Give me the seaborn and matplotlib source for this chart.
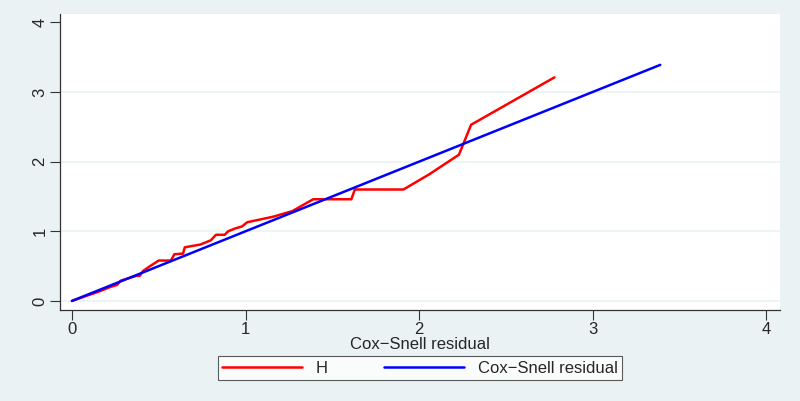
import pandas as pd
import matplotlib
matplotlib.use('Agg')
import matplotlib.pyplot as plt
import seaborn as sns

# data
h_x = [0, 0.08, 0.15, 0.22, 0.26, 0.28, 0.37, 0.39, 0.41, 0.45, 0.50, 0.57, 0.59,
       0.64, 0.65, 0.74, 0.80, 0.83, 0.88, 0.90, 0.94, 0.98, 1.01, 1.16, 1.27,
       1.39, 1.61, 1.63, 1.91, 2.06, 2.23, 2.30, 2.78]
h_y = [0, 0.07, 0.13, 0.20, 0.23, 0.29, 0.36, 0.36, 0.43, 0.50, 0.58, 0.58, 0.67,
       0.68, 0.77, 0.81, 0.87, 0.95, 0.95, 1.00, 1.04, 1.07, 1.13, 1.21, 1.29,
       1.46, 1.46, 1.60, 1.60, 1.82, 2.10, 2.53, 3.21]
cs_x = [0, 3.39]
cs_y = [0, 3.39]
x_ticks = [0, 1, 2, 3, 4]
y_ticks = [0, 1, 2, 3, 4]

h_df = pd.DataFrame({'x': h_x, 'y': h_y})
cs_df = pd.DataFrame({'x': cs_x, 'y': cs_y})

sns.set_style('white')
plt.rcParams['font.family'] = ['Liberation Sans', 'DejaVu Sans']

bg = '#EAF2F3'
fig = plt.figure(figsize=(8, 4.01), dpi=100, facecolor=bg)
ax = fig.add_axes([0.075, 0.227, 0.9, 0.738])
ax.set_facecolor('white')

# gridlines
for v in [0, 1, 2, 3]:
    ax.axhline(v, color=bg, lw=1.2, zorder=0)

sns.lineplot(data=h_df, x='x', y='y', ax=ax, color='#FF0000', lw=1.8,
             sort=False, estimator=None, label='H')
sns.lineplot(data=cs_df, x='x', y='y', ax=ax, color='#0000FF', lw=1.8,
             sort=False, estimator=None, label='Cox\u2212Snell residual')

ax.set_xlim(-0.069, 4.08)
ax.set_ylim(-0.13, 4.12)
ax.set_xticks(x_ticks)
ax.set_yticks(y_ticks)
ax.set_yticklabels([str(t) for t in y_ticks], rotation=90, va='center')
ax.tick_params(axis='both', direction='out', length=7, width=0.8,
               color='#333333', labelsize=12, pad=2, bottom=True, left=True)
ax.set_xlabel('Cox\u2212Snell residual', fontsize=12, labelpad=0)
ax.set_ylabel('')

for s in ['top', 'right']:
    ax.spines[s].set_visible(False)
for s in ['left', 'bottom']:
    ax.spines[s].set_color('#333333')
    ax.spines[s].set_linewidth(0.9)

leg = ax.legend(loc='center', bbox_to_anchor=(0.525, 0.082),
                bbox_transform=fig.transFigure, ncol=2, frameon=True,
                fancybox=False, edgecolor='#333333', fontsize=12,
                handlelength=4.8, columnspacing=3.4, handletextpad=0.8,
                borderpad=0.25)
leg.get_frame().set_linewidth(0.8)

fig.savefig('out.png', dpi=100, facecolor=bg)
